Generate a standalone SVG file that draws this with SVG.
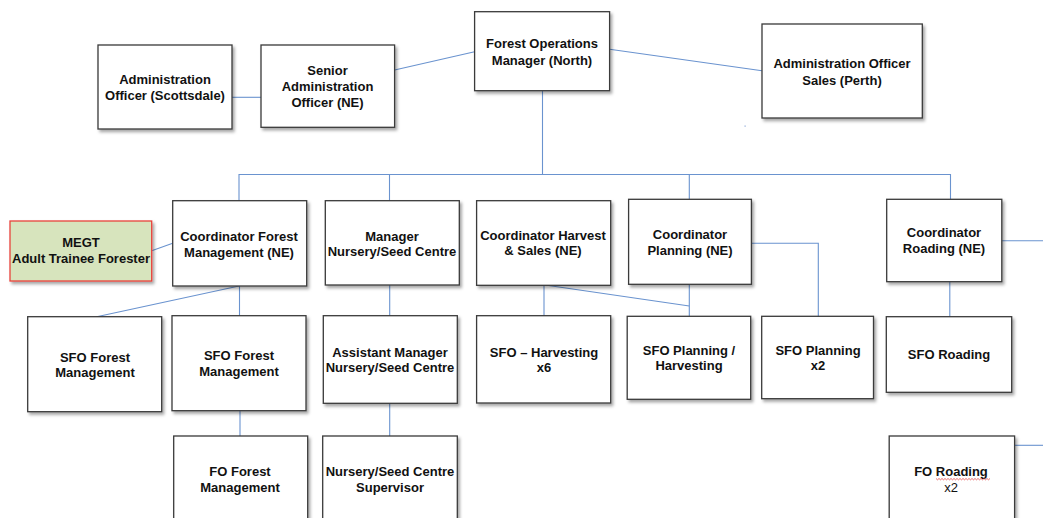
<svg xmlns="http://www.w3.org/2000/svg" width="1043" height="518" viewBox="0 0 1043 518">
  <defs>
    <filter id="sh" x="-10%" y="-10%" width="130%" height="130%">
      <feDropShadow dx="2" dy="2.5" stdDeviation="1.5" flood-color="#000" flood-opacity="0.35"/>
    </filter>
  </defs>
  <style>
    .box{fill:#fff;stroke:#3a3a3a;stroke-width:1.3;filter:url(#sh)}
    .green{fill:#d7e4bd;stroke:#e8423c;stroke-width:1.3;filter:url(#sh)}
    .t{font-family:"Liberation Sans",Arial,sans-serif;font-size:13px;font-weight:bold;fill:#111;text-anchor:middle}
    .r{font-weight:normal}
    .c{fill:none;stroke:#6a93cf;stroke-width:1.1}
  </style>
  <rect width="1043" height="518" fill="#fff"/>

  <g id="connectors" class="c">
    <line x1="232" y1="97.3" x2="261" y2="97.3"/>
    <line x1="394.6" y1="70" x2="474.6" y2="51.7"/>
    <line x1="609.6" y1="49.3" x2="762" y2="70.7"/>
    <line x1="542.5" y1="90.7" x2="542.5" y2="174.5"/>
    <polyline points="239,200.7 239,174.5 950.5,174.5 950.5,199.3"/>
    <line x1="389.5" y1="174.5" x2="389.5" y2="200.7"/>
    <line x1="689.3" y1="174.5" x2="689.3" y2="199.3"/>
    <line x1="151.7" y1="250.7" x2="172.7" y2="243.3"/>
    <line x1="239" y1="286" x2="96.7" y2="316.7"/>
    <line x1="239.5" y1="286" x2="239.5" y2="315.7"/>
    <line x1="240" y1="410.7" x2="240" y2="436"/>
    <line x1="389.7" y1="285" x2="389.7" y2="315.7"/>
    <line x1="389.7" y1="403.3" x2="389.7" y2="436"/>
    <line x1="544" y1="285.3" x2="544" y2="315.7"/>
    <polyline points="546.8,285.3 689.3,306"/>
    <line x1="689.3" y1="284.3" x2="689.3" y2="316.3"/>
    <polyline points="751.4,243.3 818.3,243.3 818.3,316.3"/>
    <line x1="1001.8" y1="240.7" x2="1043" y2="240.7"/>
    <line x1="949.8" y1="281.7" x2="949.8" y2="316.7"/>
    <line x1="1014.6" y1="445.3" x2="1043" y2="445.3"/>
  </g>
  <rect x="744.5" y="125.5" width="1.2" height="1.2" fill="#8aa6d6"/>

  <g id="admin-scottsdale">
    <rect class="box" x="98" y="45" width="134" height="84"/>
    <text class="t" x="165" y="83.8">Administration</text>
    <text class="t" x="165" y="99.5">Officer (Scottsdale)</text>
  </g>
  <g id="senior-admin">
    <rect class="box" x="261" y="45" width="133.6" height="82.3"/>
    <text class="t" x="327.5" y="75.2">Senior</text>
    <text class="t" x="327.5" y="91.2">Administration</text>
    <text class="t" x="327.5" y="106.5">Officer (NE)</text>
  </g>
  <g id="fom-north">
    <rect class="box" x="474.6" y="11.7" width="135" height="79"/>
    <text class="t" x="542" y="48.2">Forest Operations</text>
    <text class="t" x="542" y="64.5">Manager (North)</text>
  </g>
  <g id="admin-sales">
    <rect class="box" x="762" y="24" width="160.3" height="94"/>
    <text class="t" x="842" y="67.8">Administration Officer</text>
    <text class="t" x="842" y="84.5">Sales (Perth)</text>
  </g>

  <g id="megt">
    <rect class="green" x="10" y="221" width="141.7" height="60"/>
    <text class="t" x="81" y="247.2">MEGT</text>
    <text class="t" x="81" y="263.2">Adult Trainee Forester</text>
  </g>
  <g id="coord-fm">
    <rect class="box" x="172.7" y="200.7" width="134" height="85.3"/>
    <text class="t" x="239" y="241.2">Coordinator Forest</text>
    <text class="t" x="239" y="256.5">Management (NE)</text>
  </g>
  <g id="manager-nursery">
    <rect class="box" x="325.3" y="200.7" width="134" height="84.3"/>
    <text class="t" x="392" y="241.2">Manager</text>
    <text class="t" x="392" y="256.2">Nursery/Seed Centre</text>
  </g>
  <g id="coord-harvest">
    <rect class="box" x="476.6" y="200.7" width="134.1" height="84.6"/>
    <text class="t" x="543" y="239.8">Coordinator Harvest</text>
    <text class="t" x="543" y="255.2">&amp; Sales (NE)</text>
  </g>
  <g id="coord-planning">
    <rect class="box" x="628.6" y="199.3" width="122.8" height="85"/>
    <text class="t" x="690" y="239.2">Coordinator</text>
    <text class="t" x="690" y="254.5">Planning (NE)</text>
  </g>
  <g id="coord-roading">
    <rect class="box" x="886.7" y="199.3" width="115.1" height="82.4"/>
    <text class="t" x="944" y="237.2">Coordinator</text>
    <text class="t" x="944" y="253.2">Roading (NE)</text>
  </g>

  <g id="sfo-fm-1">
    <rect class="box" x="27.7" y="316.7" width="134" height="95"/>
    <text class="t" x="95" y="361.8">SFO Forest</text>
    <text class="t" x="95" y="377.2">Management</text>
  </g>
  <g id="sfo-fm-2">
    <rect class="box" x="172" y="315.7" width="134" height="95"/>
    <text class="t" x="239" y="360.2">SFO Forest</text>
    <text class="t" x="239" y="375.5">Management</text>
  </g>
  <g id="asst-manager-nursery">
    <rect class="box" x="323.3" y="315.7" width="134" height="87.6"/>
    <text class="t" x="390" y="356.8">Assistant Manager</text>
    <text class="t" x="390" y="372.2">Nursery/Seed Centre</text>
  </g>
  <g id="sfo-harvesting">
    <rect class="box" x="476.6" y="315.7" width="134.1" height="87.3"/>
    <text class="t" x="544" y="356.8">SFO – Harvesting</text>
    <text class="t" x="544" y="372.2">x6</text>
  </g>
  <g id="sfo-planning-harvesting">
    <rect class="box" x="627.2" y="316.3" width="123.5" height="83"/>
    <text class="t" x="689" y="355.2">SFO Planning /</text>
    <text class="t" x="689" y="370.2">Harvesting</text>
  </g>
  <g id="sfo-planning">
    <rect class="box" x="761.7" y="316.3" width="111.8" height="82.4"/>
    <text class="t" x="818" y="355.2">SFO Planning</text>
    <text class="t" x="818" y="370.2">x2</text>
  </g>
  <g id="sfo-roading">
    <rect class="box" x="886.3" y="316.7" width="125.4" height="75.6"/>
    <text class="t" x="949" y="359.2">SFO Roading</text>
  </g>

  <g id="fo-fm">
    <rect class="box" x="173.7" y="436" width="134" height="100"/>
    <text class="t" x="240" y="476.2">FO Forest</text>
    <text class="t" x="240" y="491.5">Management</text>
  </g>
  <g id="nursery-supervisor">
    <rect class="box" x="322.7" y="436" width="134.6" height="100"/>
    <text class="t" x="390" y="476.2">Nursery/Seed Centre</text>
    <text class="t" x="390" y="491.5">Supervisor</text>
  </g>
  <g id="fo-roading">
    <rect class="box" x="889.2" y="436" width="125.4" height="100"/>
    <text class="t" x="951" y="476.2">FO Roading</text>
    <path d="M936,478.5 l1.5,1.3 l1.5,-1.3 l1.5,1.3 l1.5,-1.3 l1.5,1.3 l1.5,-1.3 l1.5,1.3 l1.5,-1.3 l1.5,1.3 l1.5,-1.3 l1.5,1.3 l1.5,-1.3 l1.5,1.3 l1.5,-1.3 l1.5,1.3 l1.5,-1.3 l1.5,1.3 l1.5,-1.3 l1.5,1.3 l1.5,-1.3 l1.5,1.3 l1.5,-1.3 l1.5,1.3 l1.5,-1.3 l1.5,1.3 l1.5,-1.3 l1.5,1.3 l1.5,-1.3 l1.5,1.3 l1.5,-1.3 l1.5,1.3 l1.5,-1.3 l1.5,1.3 l1.5,-1.3 l1.5,1.3 l1.5,-1.3" fill="none" stroke="#e03030" stroke-width="0.7"/>
    <text class="t r" x="951" y="492.2">x2</text>
  </g>
</svg>
